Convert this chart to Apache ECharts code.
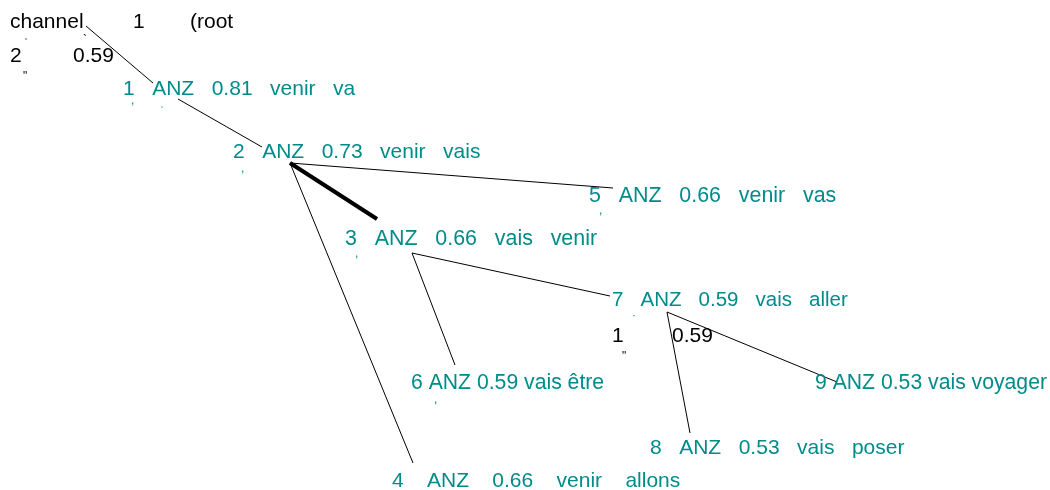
<!DOCTYPE html>
<html>
<head>
<meta charset="utf-8">
<script src="https://cdn.jsdelivr.net/npm/echarts@6/dist/echarts.min.js"></script>
<style>
html,body{margin:0;padding:0;background:#fff;}
#c{width:1050px;height:490px;}
</style>
</head>
<body>
<div id="c"></div>
<script>
// ---- data ----
const nodeNames = ["root", "1", "2", "3", "4", "5", "6", "7", "8", "9"];
const nodeLabels = [
  "",
  "1   ANZ   0.81   venir   va",
  "2   ANZ   0.73   venir   vais",
  "3   ANZ   0.66   vais   venir",
  "4    ANZ    0.66    venir    allons",
  "5   ANZ   0.66   venir   vas",
  "6 ANZ 0.59 vais être",
  "7   ANZ   0.59   vais   aller",
  "8   ANZ   0.53   vais   poser",
  "9 ANZ 0.53 vais voyager"
];
// tree edges (parent -> child), and whether the edge is emphasised
const edgeParent = [0, 1, 2, 2, 2, 3, 3, 7, 7];
const edgeChild  = [1, 2, 5, 3, 4, 6, 7, 9, 8];
const edgeBold   = [0, 0, 0, 1, 0, 0, 0, 0, 0];
// black annotation texts
const noteTexts = ["channel", "1", "(root", "2", "0.59", "1", "0.59"];

// ---- layout (diagram positions in a 1050 x 490 plane) ----
const labelX = [null, 123, 233, 345, 392, 589, 411, 612, 650, 815];
const labelY = [null, 89, 152, 239, 481, 196, 383, 300, 448, 383];
const labelSize = [null, 21, 21, 21.4, 21, 21.4, 21.2, 20.5, 21, 21.2];
const inX  = [null, 153, 262, 377, 413, 613, 455, 610, 690, 837];
const inY  = [null, 83, 147, 219, 463, 188, 365, 296, 433, 382];
const outX = [86, 178, 290, 412, null, null, null, 667, null, null];
const outY = [26, 99, 163, 253, null, null, null, 312, null, null];
const noteX = [10, 133, 190, 10, 73, 612, 672];
const noteY = [22, 22, 22, 56, 56, 336, 336];
const tickMarks = ["ˈ", "`", "\"", ",", "ˌ", ",", ",", ",", "·", "\"", ","];
const tickX = [24, 83, 23, 131, 160, 241, 355, 599, 632, 622, 434];
const tickY = [44, 41, 77, 101, 102, 169, 254, 211, 316, 357, 400];
const tickTeal = [0, 0, 0, 1, 1, 1, 1, 1, 1, 0, 1];

const FONT = "'Liberation Sans', Arial, Helvetica, sans-serif";
const TEAL = "#008b8b";

const thinLines = [], boldLines = [];
for (let i = 0; i < edgeParent.length; i++) {
  const p = edgeParent[i], c = edgeChild[i];
  const seg = { coords: [[outX[p], outY[p]], [inX[c], inY[c]]] };
  (edgeBold[i] ? boldLines : thinLines).push(seg);
}
const labelData = [];
for (let i = 1; i < nodeNames.length; i++) {
  labelData.push({ name: nodeNames[i], value: [labelX[i], labelY[i]], label: { formatter: nodeLabels[i], fontSize: labelSize[i] } });
}
const noteData = noteTexts.map((t, i) => ({ value: [noteX[i], noteY[i]], label: { formatter: t } }));
const tickData = tickMarks.map((t, i) => ({ value: [tickX[i], tickY[i]], label: { formatter: t, color: tickTeal[i] ? TEAL : '#000' } }));

const chart = echarts.init(document.getElementById('c'), null, { renderer: 'canvas' });
const txtSeries = (data, color, size) => ({
  type: 'scatter', symbolSize: 0, silent: true, z: 2,
  itemStyle: { opacity: 1 },
  label: { show: true, position: 'right', distance: 0, color: color, fontSize: size, fontFamily: FONT, opacity: 1 },
  data: data
});
chart.setOption({
  animation: false,
  backgroundColor: '#ffffff',
  grid: { left: 0, right: 0, top: 0, bottom: 0 },
  xAxis: { type: 'value', min: 0, max: 1050, show: false },
  yAxis: { type: 'value', min: 0, max: 490, inverse: true, show: false },
  series: [
    {
      type: 'lines', coordinateSystem: 'cartesian2d', silent: true,
      lineStyle: { color: '#000', width: 1, opacity: 1 },
      data: thinLines, z: 1
    },
    {
      type: 'lines', coordinateSystem: 'cartesian2d', silent: true,
      lineStyle: { color: '#000', width: 4, opacity: 1 },
      data: boldLines, z: 1
    },
    txtSeries(labelData, TEAL, 21),
    txtSeries(noteData, '#000', 21),
    txtSeries(tickData, '#000', 12)
  ]
});
</script>
</body>
</html>
